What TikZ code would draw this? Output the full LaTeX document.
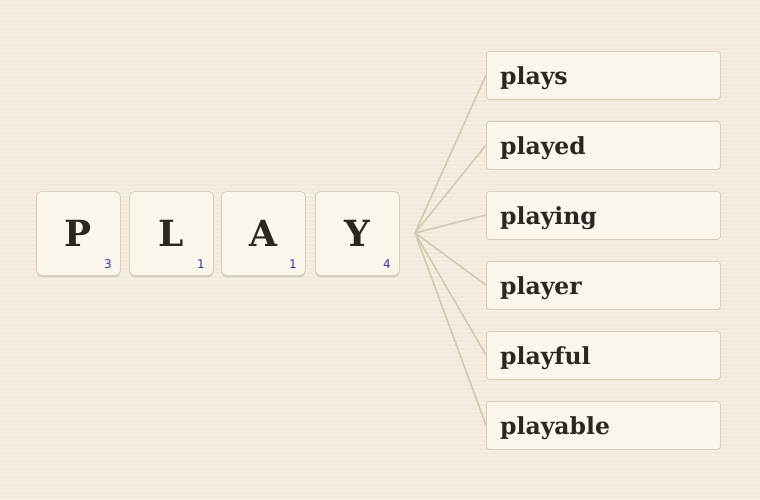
\documentclass[tikz,border=0pt]{standalone}
\usepackage{fontspec}
\setmainfont{DejaVu Serif}
\newfontfamily\numfont{DejaVu Sans}
\usetikzlibrary{shadows}
\definecolor{bg}{HTML}{F5EFE3}
\definecolor{stripe}{HTML}{F1E9DC}
\definecolor{tilefill}{HTML}{FAF6EC}
\definecolor{tileedge}{HTML}{D8CEBB}
\definecolor{linkcol}{HTML}{D2C9B1}
\definecolor{inkcol}{HTML}{2A2620}
\definecolor{numcol}{HTML}{2B37B0}
\tikzset{
  tile/.style={draw=tileedge, line width=0.9pt, fill=tilefill, rounded corners=5pt,
    minimum width=84pt, minimum height=84pt, inner sep=0pt, anchor=north west,
    font=\bfseries\fontsize{36pt}{36pt}\selectfont, text=inkcol,
    drop shadow={shadow xshift=0pt, shadow yshift=-1.8pt, opacity=0.22, fill=black!60}},
  tilenum/.style={font=\numfont\fontsize{12pt}{12pt}\selectfont, text=numcol, inner sep=0pt},
  wordbox/.style={draw=tileedge, line width=0.9pt, fill=tilefill, rounded corners=3pt,
    minimum width=234pt, minimum height=48pt, inner sep=0pt, anchor=north west},
  wordtext/.style={font=\bfseries\fontsize{23.5pt}{23.5pt}\selectfont, text=inkcol, anchor=base west, inner sep=0pt},
  link/.style={draw=linkcol, line width=1.6pt}
}
\begin{document}
\begin{tikzpicture}[x=1pt,y=-1pt]
\useasboundingbox (0,0) rectangle (760,500);
\fill[bg] (0,0) rectangle (760,500);
\begin{scope}
\clip (0,0) rectangle (760,500);
\foreach \k in {0,...,124}{
  \draw[stripe, line width=1.2pt] (0,{4*\k+1}) -- (760,{4*\k+1});
}
\end{scope}
% tiles
\node[tile] (tP) at (36,191) {P};
\node[tile] (tL) at (129,191) {L};
\node[tile] (tA) at (221,191) {A};
\node[tile] (tY) at (315,191) {Y};
\node[tilenum] (nP) at ([xshift=-13pt,yshift=12pt]tP.south east) {3};
\node[tilenum] (nL) at ([xshift=-13pt,yshift=12pt]tL.south east) {1};
\node[tilenum] (nA) at ([xshift=-13pt,yshift=12pt]tA.south east) {1};
\node[tilenum] (nY) at ([xshift=-13pt,yshift=12pt]tY.south east) {4};
% hub
\coordinate (hub) at (415,233);
\foreach \i in {1,...,6}{
  \path (486,{51+70*(\i-1)}) coordinate (c\i);
}
\foreach \i in {1,...,6}{
  \draw[link] (hub) -- ([yshift=-24pt]c\i);
}
\foreach \w [count=\i] in {plays,played,playing,player,playful,playable}{
  \node[wordbox] (b\i) at (c\i) {};
  \node[wordtext] (w\i) at ([xshift=14pt,yshift=15pt]b\i.south west) {\w};
}
\end{tikzpicture}
\end{document}
